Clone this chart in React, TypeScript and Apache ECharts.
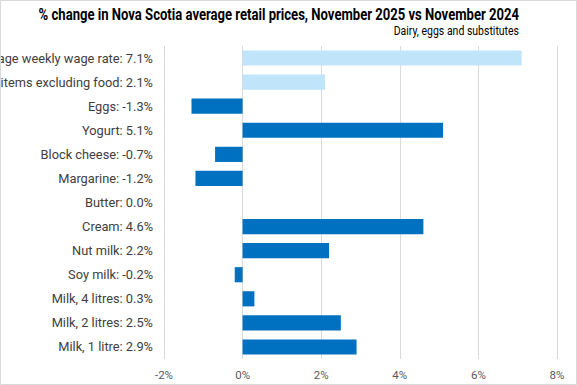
import React, { useEffect, useRef } from "react";
import * as echarts from "echarts";

const titleText = "% change in Nova Scotia average retail prices, November 2025 vs November 2024";
const subtitleText = "Dairy, eggs and substitutes";
const categories = [
  "Average weekly wage rate",
  "All-items excluding food",
  "Eggs",
  "Yogurt",
  "Block cheese",
  "Margarine",
  "Butter",
  "Cream",
  "Nut milk",
  "Soy milk",
  "Milk, 4 litres",
  "Milk, 2 litres",
  "Milk, 1 litre",
];
const values = [7.1, 2.1, -1.3, 5.1, -0.7, -1.2, 0.0, 4.6, 2.2, -0.2, 0.3, 2.5, 2.9];
const highlighted = ["Average weekly wage rate", "All-items excluding food"];
const xTicks = { min: -2, max: 8, interval: 2 };

const FONT = "Roboto, 'Noto Sans', sans-serif";

export default function App() {
  const ref = useRef<HTMLDivElement>(null);
  useEffect(() => {
    const chart = echarts.init(ref.current!, undefined, { renderer: "svg" });
    const labels = categories.map((c, i) => `${c}: ${values[i].toFixed(1)}%`);
    const baseGraphics: any[] = [
      {
        type: "rect",
        shape: { x: 0.5, y: 0.5, width: 576, height: 384 },
        style: { fill: "none", stroke: "#D9D9D9", lineWidth: 1 },
        silent: true,
        z: 100,
      },
      {
        type: "text",
        x: 519,
        y: 14,
        scaleX: 0.77,
        style: {
          text: titleText,
          fontFamily: FONT,
          fontSize: 17,
          fontWeight: "bold",
          fill: "#000000",
          align: "right",
          verticalAlign: "middle",
        },
      },
      {
        type: "text",
        x: 519,
        y: 31,
        scaleX: 0.84,
        style: {
          text: subtitleText,
          fontFamily: FONT,
          fontSize: 12.5,
          fill: "#000000",
          align: "right",
          verticalAlign: "middle",
        },
      },
    ];
    chart.setOption({
      animation: false,
      backgroundColor: "#ffffff",
      grid: { left: 164, right: 20, top: 46, bottom: 26, containLabel: false, outerBoundsMode: "none" },
      xAxis: {
        type: "value",
        min: xTicks.min,
        max: xTicks.max,
        interval: xTicks.interval,
        axisLabel: {
          formatter: (v: number) => `${v}%`,
          color: "#595959",
          fontFamily: FONT,
          fontSize: 11.5,
          margin: 10,
        },
        axisLine: { show: false },
        axisTick: { show: false },
        splitLine: { show: true, lineStyle: { color: "#D9D9D9", width: 1 } },
      },
      yAxis: {
        type: "category",
        data: categories,
        inverse: true,
        axisLine: { show: false, onZero: false },
        axisTick: { show: false },
        axisLabel: { show: false },
      },
      series: [
        {
          type: "bar",
          name: "values",
          z: 2,
          data: values.map((v, i) => ({
            value: v,
            itemStyle: { color: highlighted.includes(categories[i]) ? "#C0E4FA" : "#0070C0" },
          })),
          barCategoryGap: "37%",
        },
      ],
      graphic: baseGraphics,
    });
    const leftPx = chart.convertToPixel({ xAxisIndex: 0 }, xTicks.min) as number;
    const labelGraphics = categories.map((c, i) => {
      const py = chart.convertToPixel({ yAxisIndex: 0 }, i) as number;
      return {
        type: "text",
        x: (typeof leftPx === "number" ? leftPx : 164) - 11,
        y: typeof py === "number" ? py : 58 + i * 24,
        silent: true,
        style: {
          text: labels[i],
          fontFamily: FONT,
          fontSize: 12.8,
          fill: "#404040",
          align: "right",
          verticalAlign: "middle",
        },
      };
    });
    chart.setOption({ graphic: [...baseGraphics, ...labelGraphics] });
    return () => chart.dispose();
  }, []);
  return (
    <div
      ref={ref}
      style={{ position: "fixed", left: 0, top: 0, width: 577, height: 385 }}
    />
  );
}
